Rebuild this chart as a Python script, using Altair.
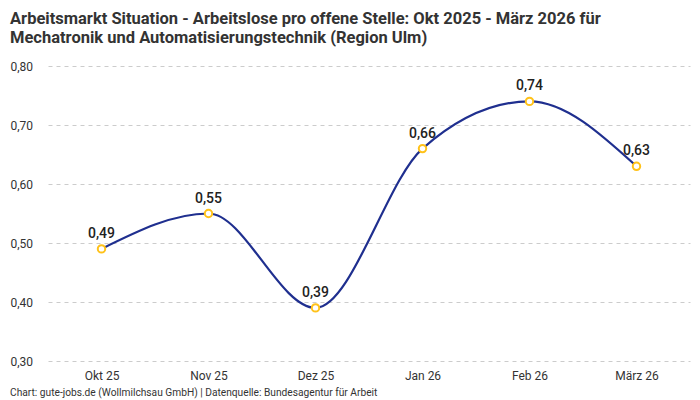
import pandas as pd
import altair as alt

# Data
monate = ['Okt 25', 'Nov 25', 'Dez 25', 'Jan 26', 'Feb 26', 'März 26']
werte = [0.49, 0.55, 0.39, 0.66, 0.74, 0.63]

df = pd.DataFrame({'Monat': monate, 'Wert': werte})

FONT = 'Roboto'
W, H = 642, 295

x_enc = alt.X('Monat:N', sort=monate, title=None,
              scale=alt.Scale(type='point', padding=0.5),
              axis=alt.Axis(labelAngle=0, ticks=False, domain=False, grid=False,
                            labelPadding=9, labelFontSize=12, labelColor='#333333'))
y_enc = alt.Y('Wert:Q', title=None,
              scale=alt.Scale(domain=[0.3, 0.8], nice=False, zero=False),
              axis=alt.Axis(values=[0.3, 0.4, 0.5, 0.6, 0.7, 0.8], ticks=False, domain=False,
                            labelAlign='left', labelPadding=38, labelFontSize=12,
                            labelColor='#333333',
                            labelExpr="replace(format(datum.value, '.2f'), '.', ',')",
                            gridDash=[4, 4], gridColor='#cccccc'))

base = alt.Chart(df).encode(x=x_enc, y=y_enc)

line = base.mark_line(interpolate='monotone', color='#1f2f8f', strokeWidth=2.2)

points = base.mark_point(filled=True, fill='white', stroke='#ffc21a',
                         strokeWidth=2, size=55, opacity=1)

labels = base.transform_calculate(
    label="replace(format(datum.Wert, '.2f'), '.', ',')"
).mark_text(dy=-15, fontSize=14, fontWeight=500, color='#222222', font=FONT).encode(
    text='label:N'
)

footer = alt.Chart(pd.DataFrame({'t': ['Chart: gute-jobs.de (Wollmilchsau GmbH) | Datenquelle: Bundesagentur für Arbeit']})).mark_text(
    align='left', baseline='middle', fontSize=10.2, color='#333333', font=FONT
).encode(x=alt.value(-38), y=alt.value(H + 32), text='t:N')

chart = alt.layer(line, points, labels, footer).properties(
    width=W, height=H,
    title=alt.TitleParams(
        ['Arbeitsmarkt Situation - Arbeitslose pro offene Stelle: Okt 2025 - März 2026 für',
         'Mechatronik und Automatisierungstechnik (Region Ulm)'],
        anchor='start', frame='bounds', fontSize=16.5, fontWeight='bold',
        color='#333333', font=FONT, offset=14, lineHeight=19),
    autosize=alt.AutoSizeParams(type='none'),
    padding={'left': 40, 'top': 58, 'right': 2, 'bottom': 45}
).configure_view(stroke=None).configure_axis(labelFont=FONT)

chart.save("out.html", embed_options={"renderer": "svg", "actions": False})
